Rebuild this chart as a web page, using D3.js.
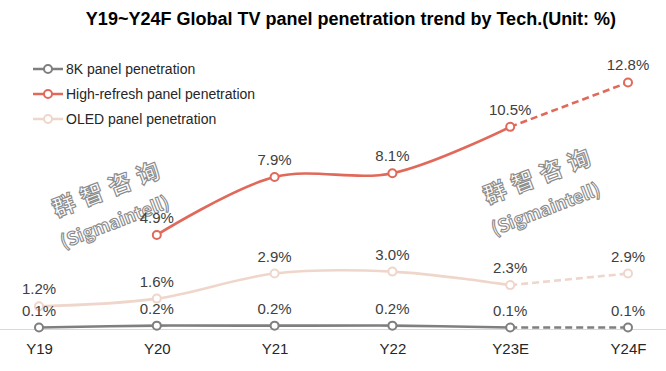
<!DOCTYPE html>
<html><head><meta charset="utf-8">
<script src="https://cdn.jsdelivr.net/npm/d3@7"></script>
<style>body{margin:0;background:#fff}svg{display:block}</style>
</head><body>
<script>
const categories = ["Y19","Y20","Y21","Y22","Y23E","Y24F"];
const seriesNames = ["8K panel penetration","High-refresh panel penetration","OLED panel penetration"];
const values8K = [0.1,0.2,0.2,0.2,0.1,0.1];
const valuesHighRefresh = [null,4.9,7.9,8.1,10.5,12.8];
const valuesOLED = [1.2,1.6,2.9,3.0,2.3,2.9];
const colors = ["#7f7f7f","#e0695a","#efd6cb"];
const title = "Y19~Y24F Global TV panel penetration trend by Tech.(Unit: %)";

const W=666,H=371;
const svg=d3.select("body").append("svg").attr("width",W).attr("height",H);
const x=d3.scalePoint().domain(categories).range([39,628]);
const y=d3.scaleLinear().domain([0,14]).range([329.5,59.3]);

// watermarks
const wm=[[112,196,117,228],[543,183,548,215]];
wm.forEach(([cx,cy,sx,sy])=>{
  svg.append("text").attr("transform",`translate(${cx},${cy}) rotate(-21)`)
    .attr("text-anchor","middle").attr("font-family","Noto Sans CJK SC").attr("font-weight","bold")
    .attr("font-size",23).attr("letter-spacing",7).attr("fill","#fff").attr("stroke","#8a8a8a").attr("stroke-width",1.1)
    .text("群智咨询");
  svg.append("text").attr("transform",`translate(${sx},${sy}) rotate(-21)`)
    .attr("text-anchor","middle").attr("font-family","Noto Sans CJK SC").attr("font-weight","bold")
    .attr("font-size",18).attr("fill","#fff").attr("stroke","#8a8a8a").attr("stroke-width",1.1)
    .text("(Sigmaintell)");
});

// title
svg.append("text").attr("x",351).attr("y",25).attr("text-anchor","middle")
  .attr("font-family","Liberation Sans, Arial, sans-serif").attr("font-weight","bold").attr("font-size",18)
  .attr("fill","#000").text(title);

// axis
const xAxis=d3.axisBottom(x).tickSize(0).tickPadding(14);
const gx=svg.append("g").attr("transform",`translate(0,${y(0)})`).call(xAxis);
gx.select(".domain").remove();
gx.append("line").attr("x1",0).attr("x2",W).attr("stroke","#d9d9d9").attr("stroke-width",1);
gx.selectAll(".tick text").attr("font-family","Liberation Sans, Arial, sans-serif").attr("font-size",15).attr("fill","#262626");

const all=[values8K,valuesHighRefresh,valuesOLED];
const drawOrder=[2,0,1];
drawOrder.forEach(i=>{
  const vals=all[i];
  const pts=categories.map((c,j)=>({c,v:vals[j]})).filter(d=>d.v!=null);
  const solid=pts.slice(0,pts.length-1);
  const dashed=pts.slice(pts.length-2);
  const g=svg.append("g");
  g.append("path").datum(solid).attr("fill","none").attr("stroke",colors[i]).attr("stroke-width",2.6)
    .attr("d",d3.line().x(d=>x(d.c)).y(d=>y(d.v)).curve(d3.curveCatmullRom.alpha(0.5)));
  g.append("path").datum(dashed).attr("fill","none").attr("stroke",colors[i]).attr("stroke-width",2.6)
    .attr("stroke-dasharray","7,4")
    .attr("d",d3.line().x(d=>x(d.c)).y(d=>y(d.v)));
  g.selectAll("circle").data(pts).join("circle").attr("cx",d=>x(d.c)).attr("cy",d=>y(d.v)).attr("r",4)
    .attr("fill","#fff").attr("stroke",colors[i]).attr("stroke-width",2);
  g.selectAll("text").data(pts).join("text").attr("x",d=>x(d.c)).attr("y",d=>y(d.v)-12)
    .attr("text-anchor","middle").attr("font-family","Liberation Sans, Arial, sans-serif").attr("font-size",15)
    .attr("fill","#404040").text(d=>d.v.toFixed(1)+"%");
});

// legend
const lg=svg.append("g");
seriesNames.forEach((n,i)=>{
  const yy=69+i*25;
  lg.append("line").attr("x1",33).attr("x2",63).attr("y1",yy).attr("y2",yy).attr("stroke",colors[i]).attr("stroke-width",2.5);
  lg.append("circle").attr("cx",48).attr("cy",yy).attr("r",4).attr("fill","#fff").attr("stroke",colors[i]).attr("stroke-width",2);
  lg.append("text").attr("x",66).attr("y",yy+5).attr("font-family","Liberation Sans, Arial, sans-serif").attr("font-size",14)
    .attr("fill","#262626").text(n);
});
</script>
</body></html>
